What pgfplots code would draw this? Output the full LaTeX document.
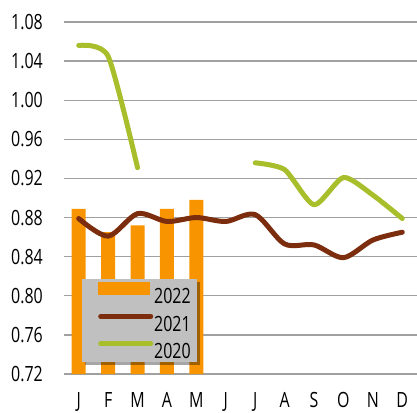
\documentclass[border=0pt]{standalone}
\usepackage{fontspec}
\setmainfont{Open Sans}[FakeStretch=0.76]
\usepackage{pgfplots}
\pgfplotsset{compat=1.18}
\usetikzlibrary{shadows}
\definecolor{c22}{HTML}{F79400}
\definecolor{c21}{HTML}{7B2D0E}
\definecolor{c20}{HTML}{A8BE2A}
\definecolor{lg}{HTML}{C0C0C0}
\definecolor{gridc}{HTML}{A0A0A0}
\newcommand{\legline}[1]{%
  \pgfpathmoveto{\pgfpointorigin}\pgfusepath{discard}%
  \pgfsetlinewidth{5pt}\pgfsetroundcap\pgfsetstrokecolor{#1}%
  \pgfpathmoveto{\pgfqpoint{12.5pt}{7.5pt}}\pgfpathlineto{\pgfqpoint{62.5pt}{7.5pt}}%
  \pgfusepath{stroke}}
\begin{document}
\begin{tikzpicture}
\begin{axis}[
  scale only axis, width=353pt, height=352pt,
  xmin=-0.5, xmax=11.5, ymin=0.72, ymax=1.08,
  xtick={0,...,11}, xticklabels={J,F,M,A,M,J,J,A,S,O,N,D},
  ytick={0.72,0.76,0.80,0.84,0.88,0.92,0.96,1.00,1.04,1.08},
  /pgf/number format/fixed, /pgf/number format/fixed zerofill,
  /pgf/number format/precision=2, /pgf/number format/assume math mode=true,
  tick label style={font=\fontsize{21}{24}\selectfont},
  yticklabel style={anchor=east, inner sep=0pt, xshift=-21pt},
  xticklabel style={anchor=north, inner sep=0pt, yshift=-18pt},
  major tick length=0pt,
  axis line style={draw=none},
  ymajorgrids, grid style={gridc, line width=1.3pt},
  unbounded coords=jump,
  legend cell align=left,
  legend style={at={(0.051,0.034)}, anchor=south west, fill=lg, draw=none,
    inner xsep=6pt, inner ysep=3pt, row sep=10pt, column sep=1pt,
    nodes={inner sep=0pt, text height=15pt, text depth=0pt},
    font=\fontsize{21}{24}\selectfont,
    drop shadow={shadow xshift=3pt, shadow yshift=-3pt, fill=black, opacity=0.35}},
]
\addplot[ybar, bar width=14pt, fill=c22, draw=none,
  legend image code/.code={\pgfpathmoveto{\pgfpointorigin}\pgfusepath{discard}%
    \pgfsetfillcolor{c22}\pgfpathrectangle{\pgfqpoint{10pt}{1.5pt}}{\pgfqpoint{52pt}{13pt}}\pgfusepath{fill}}]
  coordinates {(0,0.889) (1,0.865) (2,0.872) (3,0.889) (4,0.898)};
\addlegendentry{2022}
\addplot[c21, line width=5pt, smooth, tension=0.5, line cap=round, line join=round,
  legend image code/.code={\legline{c21}}]
  coordinates {(0,0.879) (1,0.861) (2,0.884) (3,0.876) (4,0.880) (5,0.876)
               (6,0.883) (7,0.853) (8,0.852) (9,0.839) (10,0.857) (11,0.865)};
\addlegendentry{2021}
\addplot[c20, line width=5pt, smooth, tension=0.4, line cap=round, line join=round,
  legend image code/.code={\legline{c20}}]
  coordinates {(0,1.056) (1,1.045) (2,0.931) (3,nan) (4,nan) (5,nan)
               (6,0.936) (7,0.929) (8,0.893) (9,0.921) (10,0.903) (11,0.879)};
\addlegendentry{2020}
\end{axis}
\pgfresetboundingbox
\path[use as bounding box] (-64pt,-38pt) rectangle (353pt,374pt);
\end{tikzpicture}
\end{document}
